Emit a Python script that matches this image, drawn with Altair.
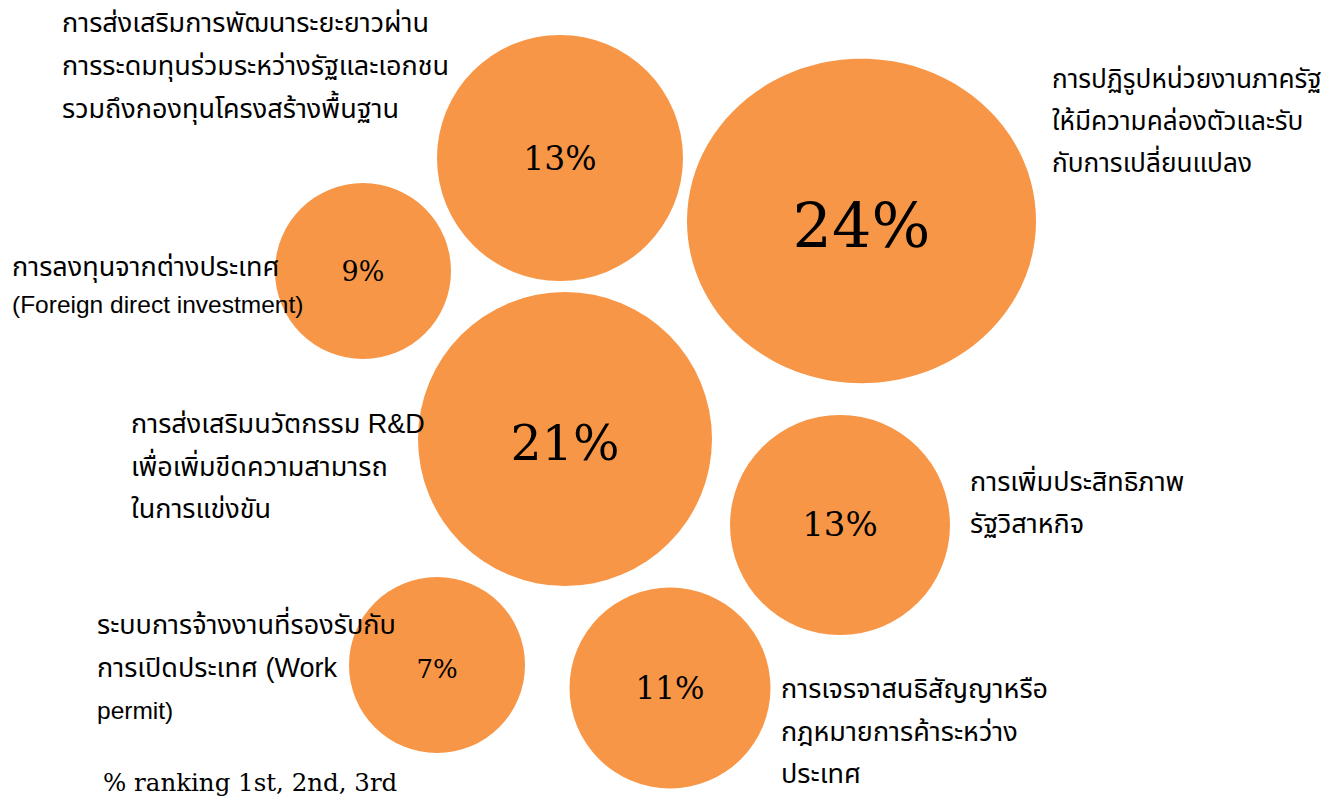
import re
import altair as alt
import pandas as pd

# data
shares = [13, 24, 9, 21, 13, 7, 11]
pct_labels = ["13%", "24%", "9%", "21%", "13%", "7%", "11%"]
topics = [
    ["การส่งเสริมการพัฒนาระยะยาวผ่าน", "การระดมทุนร่วมระหว่างรัฐและเอกชน", "รวมถึงกองทุนโครงสร้างพื้นฐาน"],
    ["การปฏิรูปหน่วยงานภาครัฐ", "ให้มีความคล่องตัวและรับ", "กับการเปลี่ยนแปลง"],
    ["การลงทุนจากต่างประเทศ", "(Foreign direct investment)"],
    ["การส่งเสริมนวัตกรรม R&D", "เพื่อเพิ่มขีดความสามารถ", "ในการแข่งขัน"],
    ["การเพิ่มประสิทธิภาพ", "รัฐวิสาหกิจ"],
    ["ระบบการจ้างงานที่รองรับกับ", "การเปิดประเทศ (Work", "permit)"],
    ["การเจรจาสนธิสัญญาหรือ", "กฎหมายการค้าระหว่าง", "ประเทศ"],
]
footnote = "% ranking 1st, 2nd, 3rd"

# layout (page pixel coordinates of the packed bubbles)
bub_x = [560, 861.5, 363, 565, 840, 437, 670]
bub_y = [158, 221, 271, 439, 525, 665, 688]
bub_d = [246, 349, 176, 294, 220, 176, 201]
bub_shape = ["circle", "M-1,0A1,0.93,0,1,1,1,0A1,0.93,0,1,1,-1,0Z",
             "circle", "circle", "circle", "circle", "circle"]
pct_y = [160, 228, 273, 445, 526, 670, 690]
pct_fs = [33, 62, 27, 49, 34, 26, 31]
lab_x = [62, 1052, 12, 131, 970, 97, 781]
lab_y = [24, 80, 268, 425, 483, 626, 690]
lab_gap = [43, 42, 38, 42.5, 42, 43, 42.5]
lab_fs = [27, 26.2, 27, 27, 27, 27, 27]

W, H = 1331, 806
M = 8

bubbles = pd.DataFrame({
    "x": bub_x, "y": bub_y, "size": [d * d for d in bub_d], "shape": bub_shape,
    "share": shares, "pct": pct_labels, "py": pct_y, "fs": pct_fs,
})

rows = []
for k, lines in enumerate(topics):
    for i, line in enumerate(lines):
        thai = bool(re.search(r"[\u0E00-\u0E7F]", line))
        rows.append({"x": lab_x[k], "y": lab_y[k] + i * lab_gap[k], "text": line,
                     "fs": lab_fs[k] if thai else 24.5})
labels = pd.DataFrame(rows)

xs = alt.Scale(domain=[M, W - M], nice=False, zero=False)
ys = alt.Scale(domain=[M, H - M], nice=False, zero=False, reverse=True)

circles = alt.Chart(bubbles).mark_point(
    filled=True, opacity=1, color="#F79646", strokeWidth=0
).encode(
    x=alt.X("x:Q", scale=xs, axis=None),
    y=alt.Y("y:Q", scale=ys, axis=None),
    size=alt.Size("size:Q", scale=None, legend=None),
    shape=alt.Shape("shape:N", scale=None, legend=None),
)

pcts = alt.Chart(bubbles).mark_text(
    font="DejaVu Serif", color="#000000", align="center", baseline="middle"
).encode(
    x=alt.X("x:Q", scale=xs, axis=None),
    y=alt.Y("py:Q", scale=ys, axis=None),
    text="pct:N",
    size=alt.Size("fs:Q", scale=None, legend=None),
)

texts = alt.Chart(labels).mark_text(
    font="Liberation Sans, Noto Sans Thai, Noto Sans, sans-serif",
    color="#000000", align="left", baseline="middle",
).encode(
    x=alt.X("x:Q", scale=xs, axis=None),
    y=alt.Y("y:Q", scale=ys, axis=None),
    text="text:N",
    size=alt.Size("fs:Q", scale=None, legend=None),
)

foot = alt.Chart(pd.DataFrame({"x": [103], "y": [784], "t": [footnote]})).mark_text(
    font="DejaVu Serif", fontSize=24.5, color="#000000", align="left", baseline="middle"
).encode(
    x=alt.X("x:Q", scale=xs, axis=None),
    y=alt.Y("y:Q", scale=ys, axis=None),
    text="t:N",
)

chart = alt.layer(circles, pcts, texts, foot).properties(
    width=W - 2 * M, height=H - 2 * M,
    autosize=alt.AutoSizeParams(type="none"), padding=0,
).configure(background="white", view=alt.ViewConfig(stroke=None))

chart.save("out.html", embed_options={"renderer": "svg", "actions": False})
